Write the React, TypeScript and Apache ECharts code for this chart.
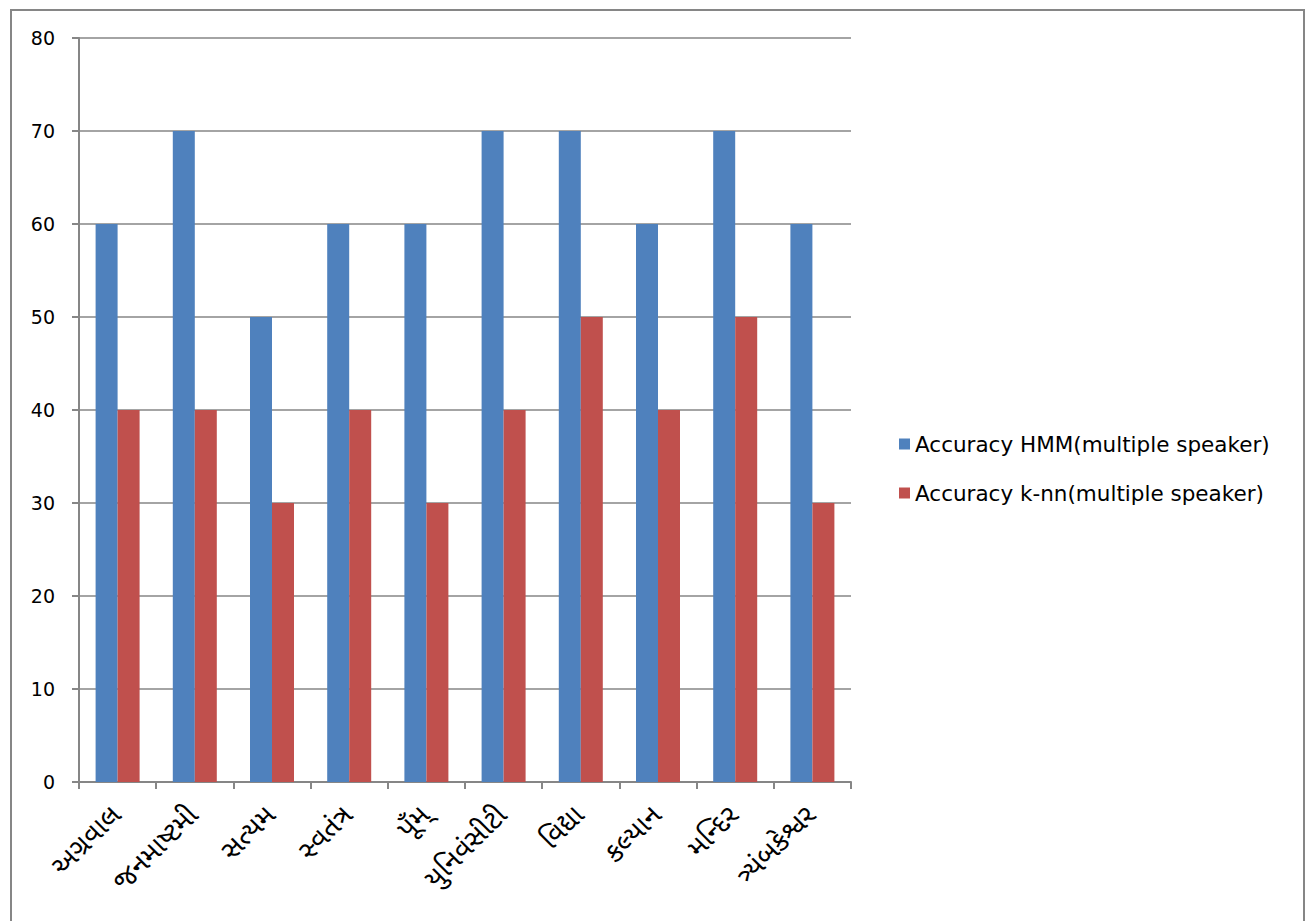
import React, { useEffect, useRef } from "react";
import * as echarts from "echarts";

const categories = [
  "અગ્રવાલ",
  "જનમાષ્ટમી",
  "સત્યમ",
  "સ્વતંત્ર",
  "પૂઁમ્",
  "યુનિવંસીટી",
  "વિદ્યા",
  "કલ્યાન",
  "મન્દિર",
  "ત્ર્યંબકેશ્વર",
];
const hmmValues = [60, 70, 50, 60, 60, 70, 70, 60, 70, 60];
const knnValues = [40, 40, 30, 40, 30, 40, 50, 40, 50, 30];
const seriesNames = [
  "Accuracy HMM(multiple speaker)",
  "Accuracy k-nn(multiple speaker)",
];

const FONT = "'DejaVu Sans', 'Noto Sans', sans-serif";
const GU_FONT = "'Noto Sans Gujarati', 'Noto Sans', sans-serif";
const AXIS_GRAY = "#868686";

export default function App() {
  const ref = useRef<HTMLDivElement>(null);
  useEffect(() => {
    if (!ref.current) return;
    const chart = echarts.init(ref.current, undefined, { renderer: "svg" });
    chart.setOption({
      animation: false,
      backgroundColor: "#ffffff",
      graphic: [
        {
          type: "rect",
          shape: { x: 11, y: 10, width: 1293, height: 920 },
          style: { fill: "none", stroke: AXIS_GRAY, lineWidth: 2 },
          silent: true,
        },
      ],
      grid: { left: 79, right: 455, top: 38, bottom: 139 },
      legend: {
        orient: "vertical",
        left: 894,
        top: 428,
        itemWidth: 11,
        itemHeight: 11,
        itemGap: 27,
        icon: "rect",
        textStyle: { fontSize: 21.5, color: "#000", fontFamily: FONT },
        data: seriesNames,
      },
      xAxis: {
        type: "category",
        data: categories,
        axisLine: { lineStyle: { color: AXIS_GRAY, width: 2 } },
        axisTick: { show: true, length: 7, lineStyle: { color: AXIS_GRAY, width: 2 } },
        axisLabel: {
          rotate: 45,
          interval: 0,
          fontSize: 28,
          color: "#000",
          fontFamily: GU_FONT,
          margin: 30,
        },
      },
      yAxis: {
        type: "value",
        min: 0,
        max: 80,
        interval: 10,
        axisLine: { show: true, lineStyle: { color: AXIS_GRAY, width: 2 } },
        axisTick: { show: true, length: 7, lineStyle: { color: AXIS_GRAY, width: 2 } },
        splitLine: { lineStyle: { color: AXIS_GRAY, width: 1.5 } },
        axisLabel: { fontSize: 19, color: "#000", fontFamily: FONT, margin: 24 },
      },
      series: [
        {
          name: seriesNames[0],
          type: "bar",
          data: hmmValues,
          itemStyle: { color: "#4F81BD" },
          barWidth: 22,
          barGap: "0%",
        },
        {
          name: seriesNames[1],
          type: "bar",
          data: knnValues,
          itemStyle: { color: "#C0504D" },
          barWidth: 22,
          barGap: "0%",
        },
      ],
    });
    return () => chart.dispose();
  }, []);
  return (
    <div
      ref={ref}
      style={{ position: "fixed", left: 0, top: 0, width: 1306, height: 921 }}
    />
  );
}
